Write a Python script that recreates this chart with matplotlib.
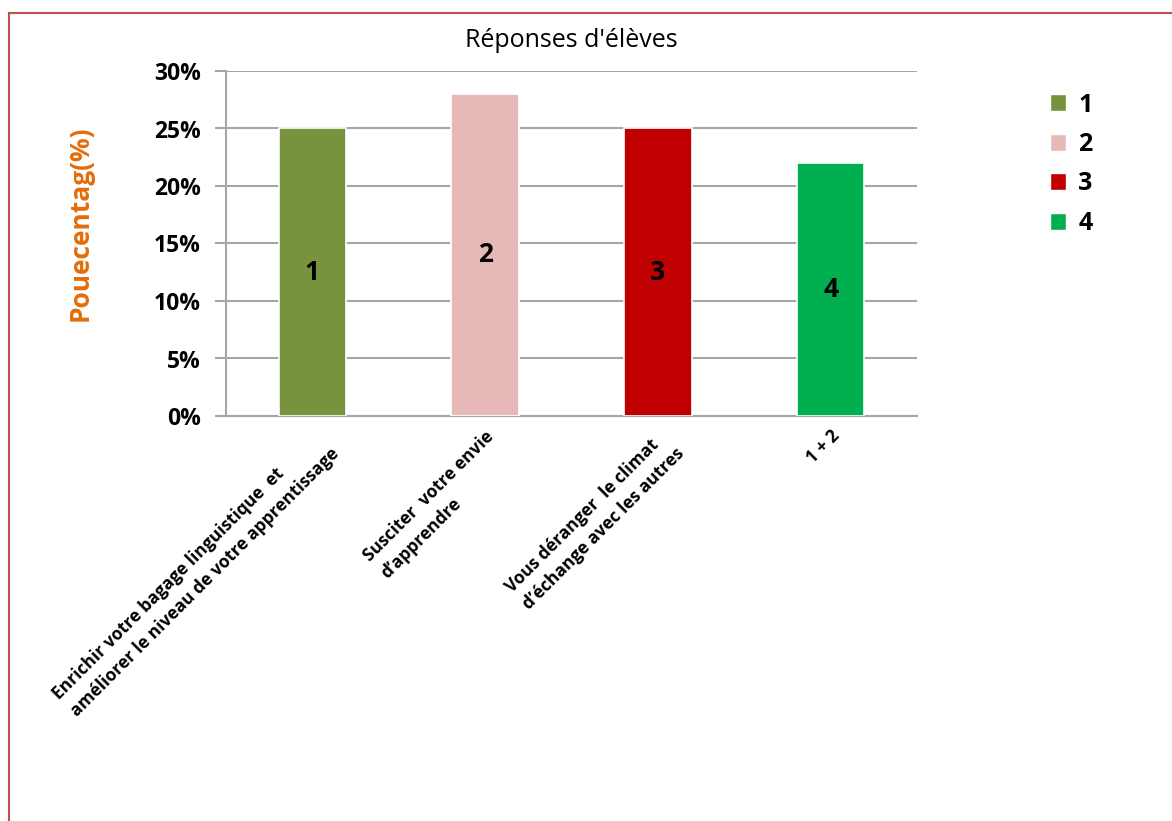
import matplotlib.pyplot as plt
from matplotlib.patches import Patch
from matplotlib.lines import Line2D
from matplotlib.ticker import PercentFormatter

plt.rcParams['font.family'] = ['Open Sans', 'DejaVu Sans']

# data
categories = ["Enrichir votre bagage linguistique  et\naméliorer le niveau de votre apprentissage",
              "Susciter  votre envie\nd\u2019apprendre",
              "Vous déranger  le climat\nd\u2019échange avec les autres",
              "1 + 2"]
values = [25, 28, 25, 22]
bar_labels = ["1", "2", "3", "4"]
colors = ["#77933C", "#E6B9B8", "#C00000", "#00B050"]

fig = plt.figure(figsize=(11.72, 8.21), dpi=100)
ax = fig.add_axes([226/1172, 1-416/821, (917-226)/1172, (416-71)/821])

x = range(len(values))
bars = ax.bar(x, values, width=0.39, color=colors, edgecolor="white", linewidth=1.2, zorder=3)
for xi, v, lab in zip(x, values, bar_labels):
    ax.text(xi, v/2, lab, ha="center", va="center", fontsize=19, fontweight="bold", zorder=4)

ax.set_xlim(-0.5, 3.5)
ax.set_ylim(0, 30)
ax.set_yticks(range(0, 31, 5))
ax.yaxis.set_major_formatter(PercentFormatter(decimals=0))
ax.grid(axis="y", color="#A6A6A6", linewidth=1.5, zorder=0)
for s in ["top", "right"]:
    ax.spines[s].set_visible(False)
ax.spines["left"].set_color("#A6A6A6")
ax.spines["bottom"].set_color("#A6A6A6")
ax.spines["left"].set_linewidth(1.5)
ax.spines["bottom"].set_linewidth(1.5)
ax.tick_params(axis="y", length=8, color="#A6A6A6", width=1.5, labelsize=16.5, pad=10)
for t in ax.get_yticklabels():
    t.set_fontweight("bold")

ax.set_xticks(list(x))
ax.set_xticklabels(categories, rotation=45, ha="right", va="top", rotation_mode="anchor",
                   fontsize=12.5, fontweight="bold", multialignment="left", linespacing=1.45)
ax.tick_params(axis="x", length=0, pad=8)

ax.set_title("Réponses d'élèves", fontsize=18, pad=17)
fig.text(80/1172, 1-223/821, "Pouecentag(%)", rotation=90, ha="center", va="center",
         fontsize=19, fontweight="bold", color="#E46C0A")

handles = [Patch(facecolor=c, edgecolor="white") for c in colors]
fig.legend(handles, bar_labels, loc="upper left", bbox_to_anchor=(1027/1172, 1-70/821),
           frameon=False, prop={"size": 18, "weight": "bold"},
           handlelength=0.65, handleheight=0.65, labelspacing=0.58, handletextpad=0.5)

# frame lines around the picture
fig.add_artist(Line2D([9/1172, 1], [1-13/821, 1-13/821], color="#C0504D", linewidth=1.5))
fig.add_artist(Line2D([9/1172, 9/1172], [0, 1-13/821], color="#C0504D", linewidth=1.5))

fig.savefig("out.png", dpi=100)
